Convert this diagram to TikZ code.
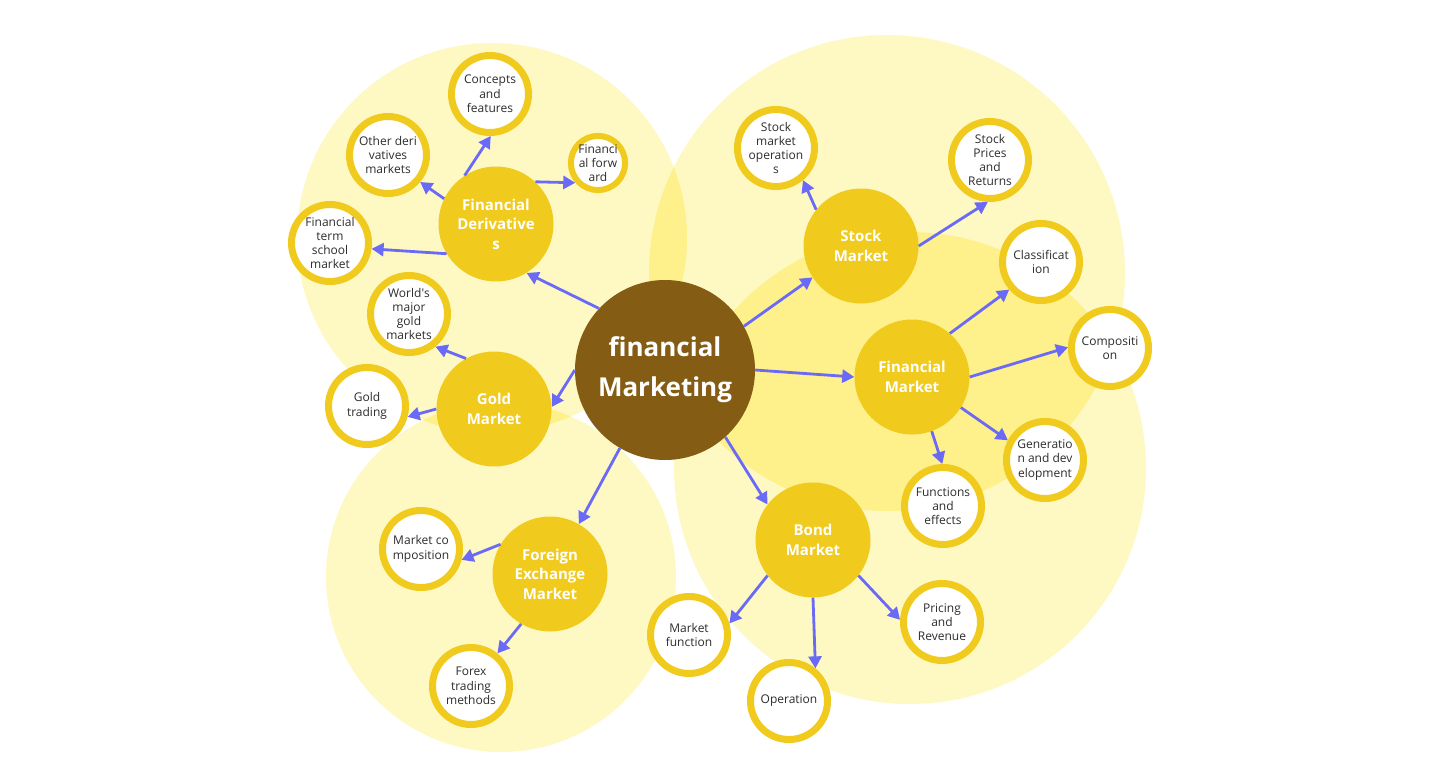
\documentclass[tikz,border=0pt]{standalone}
\usepackage{fontspec}
\setmainfont{Open Sans}
\usetikzlibrary{arrows.meta}
\definecolor{bgA}{RGB}{254,249,195}
\definecolor{bgB}{RGB}{254,240,138}
\definecolor{goldc}{RGB}{240,202,28}
\definecolor{fmbrown}{RGB}{132,92,19}
\definecolor{arrowc}{RGB}{106,106,246}
\definecolor{txt}{RGB}{45,45,45}
\begin{document}
\begin{tikzpicture}[x=1pt,y=-1pt,
 leaf/.style={circle,draw=goldc,line width=7pt,fill=white,minimum size=77pt,inner sep=0pt,align=center,text=txt,font=\fontsize{12}{14.3}\selectfont},
 mid/.style={circle,fill=goldc,minimum size=115pt,inner sep=0pt,align=center,text=white,font=\bfseries\fontsize{15}{19.5}\selectfont},
 hub/.style={circle,fill=fmbrown,minimum size=180pt,inner sep=0pt,align=center,text=white,font=\bfseries\fontsize{26}{40}\selectfont},
 link/.style={draw=arrowc,line width=2.8pt,-{Triangle[length=12pt,width=13pt]}}]
\useasboundingbox[fill=white] (0,0) rectangle (1440,784);
% background circles
\fill[bgA] (492,238) circle[radius=195pt];
\fill[bgA] (501,577) circle[radius=175pt];
\fill[bgA] (887,273) circle[radius=238pt];
\fill[bgA] (910,468) circle[radius=236pt];
\begin{scope}
 \clip (492,238) circle[radius=195pt];
 \fill[bgB] (887,273) circle[radius=238pt];
 \fill[bgB] (501,577) circle[radius=175pt];
\end{scope}
\begin{scope}
 \clip (887,273) circle[radius=238pt];
 \fill[bgB] (910,468) circle[radius=236pt];
\end{scope}
% hub
\node[hub] (hub) at (665,370) {financial\\Marketing};
% mid nodes
\node[mid] (deriv) at (496,224) {Financial\\Derivative\\s};
\node[mid] (gold) at (494,409) {Gold\\Market};
\node[mid] (forex) at (550,574) {Foreign\\Exchange\\Market};
\node[mid] (stock) at (861,246) {Stock\\Market};
\node[mid] (fmkt) at (912,377) {Financial\\Market};
\node[mid] (bond) at (813,540) {Bond\\Market};
% leaves
\node[leaf] (concepts) at (490,94) {Concepts\\and\\features};
\node[leaf] (other) at (388,155) {Other deri\\vatives\\markets};
\node[leaf,minimum size=52pt,line width=6pt] (ffwd) at (598,163) {Financi\\al forw\\ard};
\node[leaf] (term) at (330,243) {Financial\\term\\school\\market};
\node[leaf] (world) at (409,314) {World\textquotesingle s\\major\\gold\\markets};
\node[leaf] (gtrade) at (367,406) {Gold\\trading};
\node[leaf] (mcomp) at (421,549) {Market co\\mposition};
\node[leaf] (fxtrade) at (471,686) {Forex\\trading\\methods};
\node[leaf] (sops) at (776,148) {Stock\\market\\operation\\s};
\node[leaf] (sprice) at (990,160) {Stock\\Prices\\and\\Returns};
\node[leaf] (class) at (1041,262) {Classificat\\ion};
\node[leaf] (compo) at (1110,348) {Compositi\\on};
\node[leaf] (gen) at (1045,460) {Generatio\\n and dev\\elopment};
\node[leaf] (func) at (943,506) {Functions\\and\\effects};
\node[leaf] (mfunc) at (689,635) {Market\\function};
\node[leaf] (oper) at (789,701) {Operation};
\node[leaf] (price) at (942,622) {Pricing\\and\\Revenue};
% connectors
\draw[link] (hub.137) -- (deriv.-58);
\draw[link] (hub.180) -- (gold.2);
\draw[link] (hub.240) -- (forex.60);
\draw[link] (hub.29) -- (stock.213);
\draw[link] (hub.0) -- (fmkt.180);
\draw[link] (hub.312) -- (bond.142);
\draw[link] (deriv.123) -- (concepts.-89);
\draw[link] (deriv.154) -- (other.-40);
\draw[link] (deriv.47) -- (ffwd.221);
\draw[link] (deriv.211) -- (term.-8);
\draw[link] (gold.119) -- (world.-51);
\draw[link] (gold.180) -- (gtrade.-15);
\draw[link] (forex.149) -- (mcomp.-15);
\draw[link] (forex.240) -- (fxtrade.51);
\draw[link] (stock.141) -- (sops.-50);
\draw[link] (stock.0) -- (sprice.267);
\draw[link] (fmkt.49) -- (class.221);
\draw[link] (fmkt.0) -- (compo.179);
\draw[link] (fmkt.-32) -- (gen.152);
\draw[link] (fmkt.-70) -- (func.91);
\draw[link] (bond.218) -- (mfunc.16);
\draw[link] (bond.-90) -- (oper.51);
\draw[link] (bond.-38) -- (price.177);
\end{tikzpicture}
\end{document}
